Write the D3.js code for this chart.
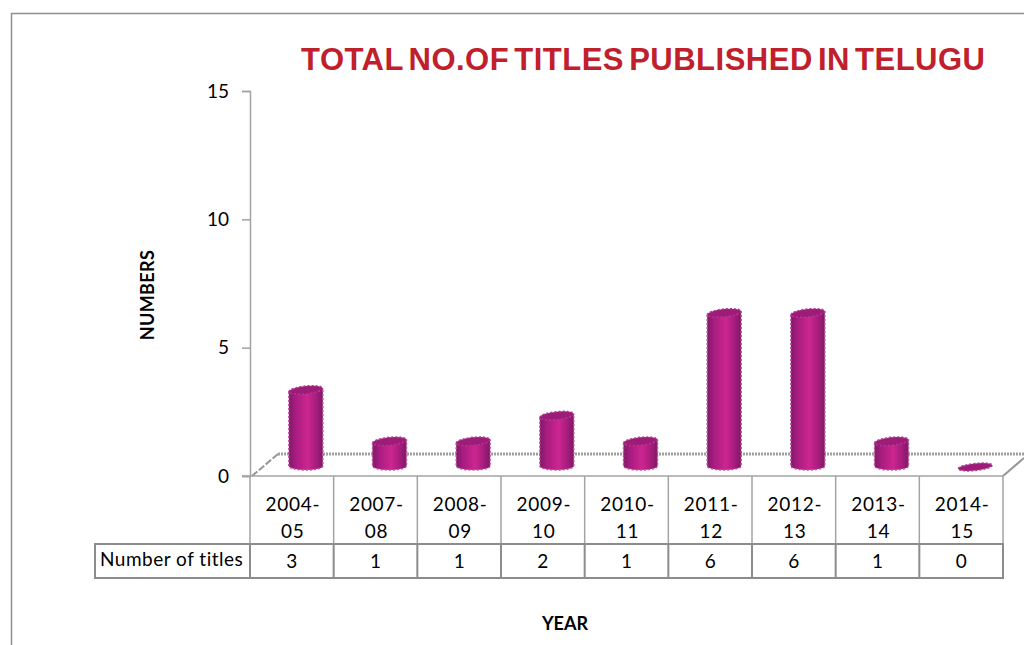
<!DOCTYPE html>
<html>
<head>
<meta charset="utf-8">
<script src="https://cdn.jsdelivr.net/npm/d3@7"></script>
<style>
  html, body { margin: 0; padding: 0; background: #fff; }
  svg { display: block; }
  text { font-family: Lato, "Open Sans", sans-serif; fill: #000; }
</style>
</head>
<body>
<div id="chart"></div>
<script>
const years = ['2004-05', '2007-08', '2008-09', '2009-10', '2010-11', '2011-12', '2012-13', '2013-14', '2014-15'];
const titles = [3, 1, 1, 2, 1, 6, 6, 1, 0];
const yTicks = [0, 5, 10, 15];
const seriesName = 'Number of titles';

const w = 1024;
const h = 645;
const axisColor = '#a3a3a3';
const tableColor = '#8c8c8c';

const xScale = d3.scaleBand().domain(years).range([250, 1003]);
const yScale = d3.scaleLinear().domain([0, 15]).range([476, 91]);

const svg = d3.select('#chart').append('svg')
  .attr('width', w)
  .attr('height', h);

const grad = svg.append('defs').append('linearGradient')
  .attr('id', 'barFill');
[[0, '#7f1a68'], [0.2, '#a81c80'], [0.55, '#cc268f'], [0.8, '#a81c7e'], [1, '#7d1a62']]
  .forEach(s => grad.append('stop').attr('offset', s[0]).attr('stop-color', s[1]));

// frame, clipped by the window on the right and bottom
svg.append('path')
  .attr('d', `M11.5,${h}V13.5H${w}`)
  .attr('fill', 'none')
  .attr('stroke', '#8f8f8f')
  .attr('stroke-width', 1.5);

svg.append('text')
  .attr('x', 301)
  .attr('y', 70)
  .style('font-family', '"Liberation Sans", Arial, sans-serif')
  .style('font-size', '31px')
  .style('font-weight', 'bold')
  .style('letter-spacing', '0.5px')
  .style('word-spacing', '-4px')
  .style('fill', '#c0202c')
  .text('TOTAL NO.OF TITLES PUBLISHED IN TELUGU');

// floor of the 3d box
const floor = svg.append('g').attr('fill', 'none');
floor.append('path')
  .attr('d', `M278,${yScale(0) - 22}H${w}`)
  .attr('stroke', '#a0a0a0')
  .attr('stroke-width', 3)
  .attr('stroke-dasharray', '2 1');
floor.append('path')
  .attr('d', `M252,${yScale(0)}L278,${yScale(0) - 22}`)
  .attr('stroke', '#969696')
  .attr('stroke-width', 2)
  .attr('stroke-dasharray', '7 2');
floor.append('path')
  .attr('d', `M1003,${yScale(0)}L${w},${yScale(0) - 18}`)
  .attr('stroke', '#969696')
  .attr('stroke-width', 2);

// y axis
const yAxis = svg.append('g')
  .attr('transform', 'translate(250,0)')
  .call(d3.axisLeft(yScale).tickValues(yTicks).tickSize(8).tickSizeOuter(8).tickPadding(13));
yAxis.selectAll('path, line').attr('stroke', axisColor).attr('stroke-width', 1.5);
yAxis.selectAll('text')
  .style('font-family', 'Lato, sans-serif')
  .style('font-size', '19px')
  .attr('fill', '#000');

// bars
const bars = svg.append('g').selectAll('g')
  .data(years.map((y, i) => ({ year: y, value: titles[i] })))
  .enter()
  .append('g')
  .attr('transform', d => `translate(${xScale(d.year) + xScale.bandwidth() / 2 + 14},0)`);

const rx = 17;
const ry = 4;
const baseShift = 8;

bars.filter(d => d.value > 0).append('path')
  .attr('d', d => {
    const top = yScale(d.value) - baseShift;
    const bottom = yScale(0) - baseShift;
    return `M${-rx},${top + 1}V${bottom - 2}A${rx},${ry} 0 0 0 ${rx},${bottom - 2}V${top - 2}Z`;
  })
  .attr('fill', 'url(#barFill)')
  .attr('stroke', '#c04ea4')
  .attr('stroke-width', 1.5)
  .attr('stroke-dasharray', '2 2');

bars.append('ellipse')
  .attr('cx', 0)
  .attr('cy', 0)
  .attr('rx', rx)
  .attr('ry', d => d.value > 0 ? ry : 3.5)
  .attr('transform', d => `translate(0,${yScale(d.value) - baseShift - 1}) rotate(-6)`)
  .attr('fill', '#9c1c78')
  .attr('stroke', '#b03a94')
  .attr('stroke-width', 1.5)
  .attr('stroke-dasharray', '2 2');

// category cells below the axis
const tableTop = 544;
const tableBottom = 578;
const tableLeft = 95;

const xAxis = svg.append('g')
  .attr('stroke', axisColor)
  .attr('stroke-width', 1.5);
xAxis.append('line')
  .attr('x1', 242).attr('x2', xScale.range()[1])
  .attr('y1', yScale(0)).attr('y2', yScale(0));
xAxis.selectAll('.cell')
  .data([...years.map(y => xScale(y)), xScale.range()[1]])
  .enter()
  .append('line')
  .attr('class', 'cell')
  .attr('x1', d => d).attr('x2', d => d)
  .attr('y1', yScale(0)).attr('y2', tableTop);

const yearText = svg.append('g').selectAll('text')
  .data(years)
  .enter()
  .append('text')
  .attr('text-anchor', 'middle')
  .style('font-size', '19px')
  .style('letter-spacing', '0.7px')
  .attr('x', d => xScale(d) + xScale.bandwidth() / 2 + 1)
  .attr('y', 511);
yearText.append('tspan').text(d => d.slice(0, 5));
yearText.append('tspan')
  .attr('x', d => xScale(d) + xScale.bandwidth() / 2 + 1)
  .attr('dy', 27)
  .text(d => d.slice(5));

// data table row
const row = svg.append('g')
  .attr('fill', 'none')
  .attr('stroke', tableColor)
  .attr('stroke-width', 2);
row.append('rect')
  .attr('x', tableLeft).attr('y', tableTop)
  .attr('width', xScale.range()[1] - tableLeft)
  .attr('height', tableBottom - tableTop);
row.selectAll('line')
  .data(years.map(y => xScale(y)))
  .enter()
  .append('line')
  .attr('x1', d => d).attr('x2', d => d)
  .attr('y1', tableTop).attr('y2', tableBottom);

svg.append('text')
  .attr('x', 100)
  .attr('y', 566)
  .style('font-size', '19px')
  .style('letter-spacing', '0.5px')
  .text(seriesName);

svg.append('g').selectAll('text')
  .data(titles)
  .enter()
  .append('text')
  .attr('text-anchor', 'middle')
  .style('font-size', '19px')
  .attr('x', (d, i) => xScale(years[i]) + xScale.bandwidth() / 2)
  .attr('y', 568)
  .text(d => d);

// axis titles
svg.append('text')
  .attr('transform', 'translate(154,295) rotate(-90)')
  .attr('text-anchor', 'middle')
  .style('font-size', '18px')
  .style('font-weight', 'bold')
  .style('letter-spacing', '0.4px')
  .text('NUMBERS');

svg.append('text')
  .attr('x', 565)
  .attr('y', 630)
  .attr('text-anchor', 'middle')
  .style('font-size', '18px')
  .style('font-weight', 'bold')
  .text('YEAR');
</script>
</body>
</html>
